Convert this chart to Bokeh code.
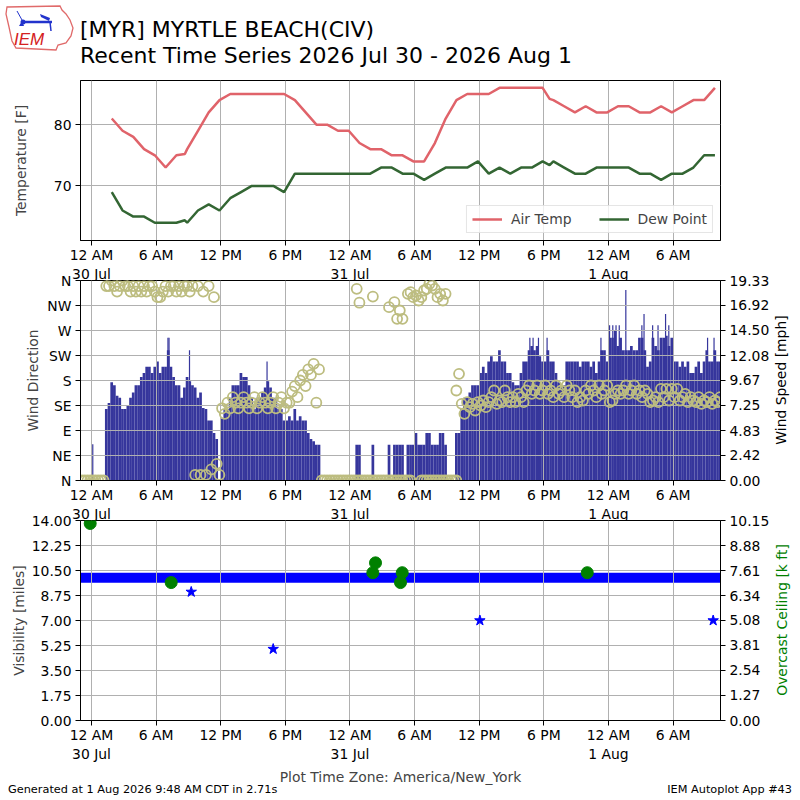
import numpy as np
from bokeh.plotting import figure
from bokeh.models import Range1d, LinearAxis, FixedTicker, NumeralTickFormatter, Div
from bokeh.layouts import column
from bokeh.embed import file_html
from bokeh.resources import INLINE

FONT = "DejaVu Sans"
FS = "13.9px"

# ---------------- data (time in hours since 2026-07-30 00:00 America/New_York) ----------------
x_tick_hours = [0, 6, 12, 18, 24, 30, 36, 42, 48, 54]
x_tick_labels = ["12 AM\n30 Jul", "6 AM", "12 PM", "6 PM", "12 AM\n31 Jul",
                 "6 AM", "12 PM", "6 PM", "12 AM\n1 Aug", "6 AM"]

# hourly observations (xx:53) from 01:53 Jul 30 to 09:53 Aug 1
hourly_hours = list(range(1, 58))
air_temp = [81, 79, 78, 76, 75, 73, 75, 76, 79, 82,
            84, 85, 85, 85, 85, 85, 85, 84, 82, 80,
            80, 79, 79, 77, 76, 76, 75, 75, 74, 74,
            77, 81, 84, 85, 85, 85, 86, 86, 86, 86,
            86, 84, 83, 82, 83, 82, 82, 83, 83, 82,
            82, 83, 82, 83, 84, 84, 86]
dew_point = [69, 66, 65, 65, 64, 64, 64, 64, 66, 67,
             66, 68, 69, 70, 70, 70, 69, 72, 72, 72,
             72, 72, 72, 72, 72, 73, 73, 72, 72, 71,
             72, 73, 73, 73, 74, 72, 73, 72, 73, 73,
             74, 74, 73, 72, 72, 73, 73, 73, 73, 72,
             72, 71, 72, 72, 73, 75, 75]
# special observations
special_time = [8 + 40 / 60, 42 + 32 / 60]
special_air = [75.2, 84.2]
special_dew = [64.4, 73.4]

# 15-minute wind record starting 23:00 Jul 29
wind_start = -1.0
wind_step = 0.25
wind_speed = [  # mph, four values per hour
    0, 0, 0, 0,            # -1
    0, 0, 0, 0,            # 0
    0, 6.9, 7.5, 9.5,      # 1
    9.2, 8.2, 8.0, 6.9,    # 2
    6.9, 7.2, 8.0, 8.5,    # 3
    9.2, 9.2, 10.0, 10.4,  # 4
    11.0, 11.0, 10.4, 11.0,  # 5
    11.5, 10.4, 11.0, 11.0,  # 6
    12.6, 11.0, 10.0, 9.2,   # 7
    9.2, 8.0, 9.0, 10.0,     # 8
    9.6, 9.2, 9.0, 8.0,      # 9
    8.5, 7.0, 6.9, 5.8,      # 10
    5.8, 4.6, 4.0, 0,        # 11
    6.0, 6.9, 6.9, 8.0,      # 12
    9.2, 9.2, 9.2, 10.4,     # 13
    10.0, 10.0, 9.2, 8.0,    # 14
    6.9, 8.0, 8.0, 8.5,      # 15
    9.0, 9.6, 9.0, 8.0,      # 16
    8.0, 6.9, 6.9, 5.8,      # 17
    5.8, 6.2, 5.8, 6.9,      # 18
    5.8, 6.2, 5.8, 5.8,      # 19
    4.6, 4.0, 3.8, 3.45,     # 20
    3.45, 0, 0, 0,           # 21
    0, 0, 0, 0,              # 22
    0, 0, 0, 0,              # 23
    0, 0, 3.45, 3.45,        # 24
    0, 0, 0, 0,              # 25
    3.45, 0, 0, 0,           # 26
    0, 0, 3.45, 0,           # 27
    3.45, 3.45, 3.45, 3.45,  # 28
    0, 3.45, 3.45, 3.45,     # 29
    4.6, 3.45, 3.45, 3.45,   # 30
    4.6, 4.6, 3.45, 3.45,    # 31
    3.45, 4.6, 4.6, 3.45,    # 32
    0, 0, 0, 4.6,            # 33
    4.6, 6.9, 8.0, 8.0,      # 34
    8.5, 9.2, 9.2, 9.2,      # 35
    10.4, 11.0, 10.4, 11.5,  # 36
    12.0, 11.5, 11.5, 12.6,  # 37
    11.5, 11.5, 10.4, 10.4,  # 38
    9.5, 9.2, 9.2, 10.4,     # 39
    11.5, 11.5, 12.6, 13.0,  # 40
    12.6, 13.0, 12.0, 11.5,  # 41
    11.5, 12.6, 11.5, 11.5,  # 42
    10.4, 9.5, 9.2, 9.2,     # 43
    11.5, 11.5, 11.5, 11.5,  # 44
    11.5, 11.0, 11.5, 11.5,  # 45
    11.5, 11.0, 11.5, 10.4,  # 46
    11.5, 12.6, 12.6, 11.5,  # 47
    13.8, 13.8, 14.5, 13.0,  # 48
    13.8, 12.6, 12.6, 12.6,  # 49
    13.0, 12.6, 12.6, 13.8,  # 50
    13.8, 12.6, 11.0, 11.5,  # 51
    13.8, 13.0, 12.6, 13.8,  # 52
    13.8, 14.0, 13.0, 13.8,  # 53
    11.5, 11.5, 11.0, 11.5,  # 54
    11.0, 11.5, 10.4, 10.4,  # 55
    11.0, 11.5, 10.4, 11.5,  # 56
    12.6, 11.5, 11.5, 12.6,  # 57
    11.5, 11.5,              # 58
]
wind_dir = [  # degrees, four values per hour
    0, 0, 0, 0,
    0, 0, 0, 0,
    0, 350, 350, 360,
    350, 340, 350, 360,
    350, 350, 340, 350,
    340, 350, 340, 350,
    340, 350, 350, 340,
    330, 330, 340, 350,
    340, 350, 350, 340,
    350, 340, 350, 350,
    340, 350, 10, 350,
    10, 340, 10, 350,
    20, 330, 30, 10,
    130, 120, 140, 130,
    150, 140, 130, 140,
    150, 140, 130, 140,
    150, 130, 140, 150,
    140, 130, 140, 150,
    130, 140, 150, 130,
    140, 140, 160, 170,
    150, 180, 190, 170,
    200, 190, 210, 140,
    200, 0, 0, 0,
    0, 0, 0, 0,
    0, 0, 0, 0,
    0, 0, 345, 320,
    0, 0, 0, 0,
    331, 0, 0, 0,
    0, 0, 312, 0,
    321, 291, 306, 291,
    0, 336, 339, 330,
    333, 324, 330, 342,
    345, 354, 351, 345,
    330, 336, 324, 336,
    0, 0, 0, 162,
    192, 138, 120, 141,
    132, 138, 126, 141,
    135, 144, 132, 141,
    150, 162, 138, 144,
    141, 162, 150, 141,
    150, 141, 156, 150,
    141, 162, 171, 156,
    162, 171, 156, 162,
    171, 156, 162, 150,
    171, 156, 162, 150,
    171, 162, 150, 162,
    141, 150, 144, 162,
    156, 171, 162, 150,
    171, 156, 162, 171,
    141, 144, 156, 162,
    156, 162, 171, 156,
    162, 171, 156, 162,
    150, 162, 156, 141,
    144, 150, 141, 165,
    150, 165, 144, 165,
    150, 165, 144, 150,
    156, 141, 150, 144,
    141, 150, 138, 144,
    141, 150, 138, 144,
    141, 150,
]
# calm minutes (direction 0) inside the light-wind 15-minute bins of 31 Jul
calm_bins = [24.5, 24.75, 26.0, 27.5, 28.0, 28.25, 28.5, 28.75, 29.25, 29.5,
             30.5, 30.75, 31.0, 31.25, 31.5, 31.75, 32.0, 32.25, 32.5, 32.75, 33.75]
# individual one-minute peaks
peak_time = [0.12, 7.1, 7.2, 9.1, 16.3, 40.7, 41.0, 41.5, 42.3, 47.3, 48.1, 48.4, 48.7,
             49.0, 49.61, 51.1, 51.3, 52.1, 52.6, 53.3, 53.6, 57.2, 57.8]
peak_speed = [3.5, 13.8, 13.8, 12.6, 11.5, 13.8, 13.8, 13.8, 13.8, 13.8, 15.0, 15.0, 15.0,
              15.0, 18.4, 15.0, 16.1, 15.0, 15.0, 16.1, 15.0, 13.8, 13.8]

# visibility (miles) and overcast ceiling (k ft)
vis_band_time = [-0.98, 58.4]
vis_band_value = [10, 10]
vis_low_time = [9.26, 16.87, 36.06, 57.72]
vis_low_value = [9, 5, 7, 7]
ceil_time = [-0.12, 7.40, 26.12, 26.37, 28.69, 28.85, 46.03]
ceil_value = [10.0, 7.0, 7.5, 8.0, 7.0, 7.5, 7.5]

dir_ticks = [0, 45, 90, 135, 180, 225, 270, 315, 360]
dir_labels = ["N", "NE", "E", "SE", "S", "SW", "W", "NW", "N"]
speed_max = 19.33
speed_ticks = [0, 2.42, 4.83, 7.25, 9.67, 12.08, 14.50, 16.92, 19.33]
vis_ticks = [0, 1.75, 3.5, 5.25, 7.0, 8.75, 10.5, 12.25, 14.0]
ceil_max = 10.15
ceil_ticks = [0, 1.27, 2.54, 3.81, 5.08, 6.34, 7.61, 8.88, 10.15]

title_lines = ["[MYR] MYRTLE BEACH(CIV)", "Recent Time Series 2026 Jul 30 - 2026 Aug 1"]
footer_left = "Generated at 1 Aug 2026 9:48 AM CDT in 2.71s"
footer_right = "IEM Autoplot App #43"

# ---------------- derived ----------------
obs_time = [h + 53 / 60 for h in hourly_hours] + special_time
obs_air = air_temp + special_air
obs_dew = dew_point + special_dew
order = np.argsort(obs_time)
obs_time = [obs_time[i] for i in order]
obs_air = [obs_air[i] for i in order]
obs_dew = [obs_dew[i] for i in order]
wind_time = wind_start + wind_step * np.arange(len(wind_speed))
wind_mid = wind_time + wind_step / 2
calm_mid = [t + wind_step / 2 for t in calm_bins]

XR = (-1.02, 58.4)
GRID = "#b0b0b0"
W = 800
BL, BR = 80, 80
BAR = "#36369c"
DIRC = "#bdbd80"


def style_axis(ax, label, standoff, label_standoff=4):
    ax.axis_label = label
    ax.axis_label_text_font = FONT
    ax.axis_label_text_font_size = FS
    ax.axis_label_text_font_style = "normal"
    ax.axis_label_standoff = standoff
    ax.major_label_text_font = FONT
    ax.major_label_text_font_size = FS
    ax.major_label_text_color = "black"
    ax.major_tick_in = 0
    ax.major_tick_out = 5
    ax.minor_tick_in = 0
    ax.minor_tick_out = 0
    ax.major_label_standoff = label_standoff
    ax.axis_line_color = "black"
    ax.major_tick_line_color = "black"


def make_panel(height, yr, top, bottom, margin_top):
    p = figure(width=W, height=height, x_range=Range1d(*XR), y_range=Range1d(*yr),
               output_backend="svg", toolbar_location=None, title=None,
               min_border_left=BL, min_border_right=BR, min_border_top=top,
               min_border_bottom=bottom)
    p.margin = (margin_top, 0, 0, 0)
    p.border_fill_color = None
    p.outline_line_color = "black"
    p.outline_line_alpha = 1
    p.outline_line_width = 1
    p.grid.grid_line_color = GRID
    p.grid.grid_line_width = 1
    p.xaxis.ticker = FixedTicker(ticks=x_tick_hours)
    p.xaxis.major_label_overrides = dict(zip(x_tick_hours, x_tick_labels))
    style_axis(p.xaxis[0], None, 0, label_standoff=1)
    p.xaxis.axis_label = None
    return p


# ---------------- overlay with texts outside the plot frames ----------------
def abs_text(x, y, text, size, align="left", rotate=False, color="black"):
    tx = {"left": "0", "center": "-50%", "right": "-100%"}[align]
    rot = " rotate(-90deg)" if rotate else ""
    return (f'<div style="position:absolute;left:{x}px;top:{y}px;'
            f'transform:translate({tx},-50%){rot};font-size:{size};line-height:1;'
            f'white-space:nowrap;color:{color};font-family:\'{FONT}\';">{text}</div>')


logo_svg = (
    '<svg style="position:absolute;left:0;top:0;overflow:visible" width="80" height="55" '
    'xmlns="http://www.w3.org/2000/svg">'
    '<path d="M7 7 L60 6 L62 10 L66 14 L70 20 L73 28 L71 36 L66 43 L58 45 L56 50 '
    'L16 48 L12 41 L9 27 L6 14 Z" fill="none" stroke="#e06a6a" stroke-width="1.3"/>'
    '<line x1="23" y1="22" x2="52" y2="22" stroke="#2233cc" stroke-width="2.5"/>'
    '<polygon points="40,14 50,18 49,21 41,17" fill="#2233cc"/>'
    '<line x1="50" y1="22" x2="51" y2="31" stroke="#2233cc" stroke-width="1.5"/>'
    '<line x1="17" y1="11" x2="22" y2="20" stroke="#2233cc" stroke-width="1"/>'
    '<polygon points="19,26 22,21 24,26" fill="#2233cc"/>'
    '<circle cx="23" cy="22" r="2.5" fill="#2233cc"/>'
    '<text x="14" y="45" font-family="DejaVu Serif" font-style="italic" font-size="17" '
    'fill="#d42020">IEM</text>'
    '</svg>')

overlay_html = (
    '<div style="position:relative;width:800px;height:800px;">'
    + logo_svg
    + abs_text(80, 30, title_lines[0], "22px")
    + abs_text(80, 56, title_lines[1], "22px")
    + abs_text(782, 380, "Wind Speed [mph]", FS, align="center", rotate=True)
    + abs_text(782.5, 620, "Overcast Ceiling [k ft]", FS, align="center", rotate=True,
               color="green")
    + abs_text(8, 790, footer_left, "11.3px")
    + abs_text(792, 790, footer_right, "11.3px", align="right")
    + '</div>')
overlay = Div(text=overlay_html, width=W, height=800, margin=(0, 0, -800, 0))

# ---------------- panel 1: temperature ----------------
p1 = make_panel(290, (61.1, 87.2), top=80, bottom=50, margin_top=0)
p1.yaxis.ticker = FixedTicker(ticks=[60, 70, 80, 90])
style_axis(p1.yaxis[0], "Temperature [F]", 22)
p1.line(obs_time, obs_air, line_color="#e0636a", line_width=2.5, legend_label="Air Temp")
p1.line(obs_time, obs_dew, line_color="#336633", line_width=2.5, legend_label="Dew Point")
lg = p1.legend[0]
lg.location = "bottom_right"
lg.orientation = "horizontal"
lg.label_text_font = FONT
lg.label_text_font_size = FS
lg.glyph_width = 30
lg.glyph_height = 14
lg.label_standoff = 9
lg.spacing = 27
lg.padding = 5
lg.margin = 7
lg.border_line_color = "#cccccc"
lg.background_fill_alpha = 0.8

# ---------------- panel 2: wind ----------------
p2 = make_panel(260, (0, 360), top=10, bottom=50, margin_top=-20)
p2.extra_y_ranges = {"speed": Range1d(0, speed_max)}
p2.yaxis.ticker = FixedTicker(ticks=dir_ticks)
p2.yaxis.major_label_overrides = dict(zip(dir_ticks, dir_labels))
style_axis(p2.yaxis[0], "Wind Direction", 3)
ax_sp = LinearAxis(y_range_name="speed", ticker=FixedTicker(ticks=speed_ticks),
                   formatter=NumeralTickFormatter(format="0.00"))
style_axis(ax_sp, None, 0)
p2.add_layout(ax_sp, "right")
p2.vbar(x=wind_mid, top=wind_speed, width=wind_step, bottom=0, y_range_name="speed",
        fill_color=BAR, line_color=None, level="underlay")
p2.segment(x0=peak_time, y0=[0] * len(peak_time), x1=peak_time, y1=peak_speed,
           y_range_name="speed", line_color=BAR, line_width=1.2, level="underlay")
p2.scatter(wind_mid, wind_dir, marker="circle", size=10, fill_color=None,
           line_color=DIRC, line_width=1.8)
p2.scatter(calm_mid, [0] * len(calm_mid), marker="circle", size=10, fill_color=None,
           line_color=DIRC, line_width=1.8)

# ---------------- panel 3: visibility / ceiling ----------------
p3 = make_panel(290, (0, 14), top=10, bottom=80, margin_top=-20)
p3.extra_y_ranges = {"ceil": Range1d(0, ceil_max)}
p3.yaxis.ticker = FixedTicker(ticks=vis_ticks)
p3.yaxis.formatter = NumeralTickFormatter(format="0.00")
style_axis(p3.yaxis[0], "Visibility [miles]", 2)
ax_c = LinearAxis(y_range_name="ceil", ticker=FixedTicker(ticks=ceil_ticks),
                  formatter=NumeralTickFormatter(format="0.00"))
style_axis(ax_c, None, 0)
p3.add_layout(ax_c, "right")
p3.xaxis.axis_label = "Plot Time Zone: America/New_York"
p3.xaxis.axis_label_standoff = 4
p3.line(vis_band_time, vis_band_value, line_color="blue", line_width=10, level="underlay")
p3.scatter(vis_low_time, vis_low_value, marker="star", size=11, color="blue")
p3.scatter(ceil_time, ceil_value, y_range_name="ceil", marker="circle", size=12,
           color="green")

layout = column(overlay, p1, p2, p3, spacing=0)
open("out.html", "w").write(file_html(layout, INLINE))
